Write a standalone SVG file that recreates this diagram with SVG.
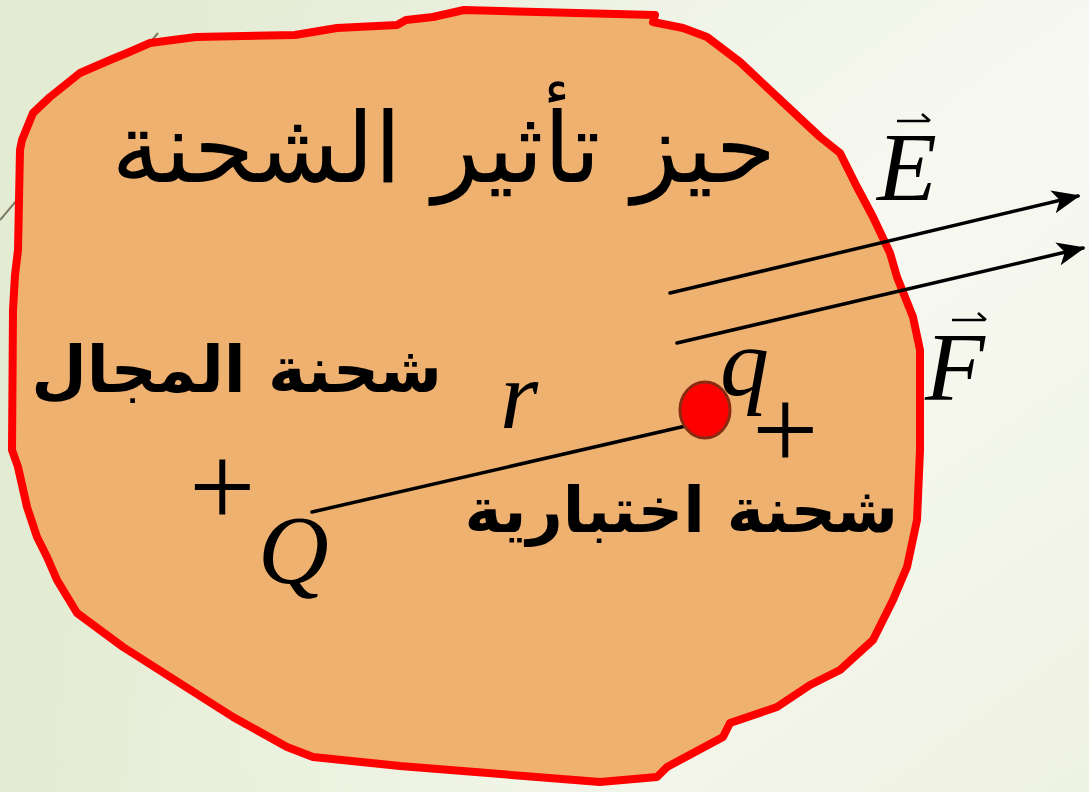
<svg xmlns="http://www.w3.org/2000/svg" width="1089" height="792" viewBox="0 0 1089 792">
  <defs>
    <linearGradient id="bg" x1="0" y1="0" x2="1" y2="1">
      <stop offset="0" stop-color="#e6ecd8"/>
      <stop offset="0.55" stop-color="#f7f9f1"/>
      <stop offset="1" stop-color="#eef2e2"/>
    </linearGradient>
    <linearGradient id="bg2" x1="0" y1="0" x2="1" y2="0">
      <stop offset="0" stop-color="#e3ebd2" stop-opacity="1"/>
      <stop offset="0.6" stop-color="#e3ebd2" stop-opacity="0"/>
    </linearGradient>
    <marker id="arrow" viewBox="0 0 12 10" refX="11" refY="5" markerWidth="8" markerHeight="7" markerUnits="strokeWidth" orient="auto">
      <path d="M0,0 L12,5 L0,10 L3,5 z" fill="#000"/>
    </marker>
    <style>
      .ar { font-family: "DejaVu Sans", "Noto Sans", sans-serif; fill: #000; direction: rtl; unicode-bidi: embed; }
      .math { font-family: "Liberation Serif", "DejaVu Serif", serif; font-style: italic; fill: #000; font-size: 98px; }
      .plus { font-family: "Liberation Serif", "DejaVu Serif", serif; fill: #000; font-size: 118px; }
      .line { stroke: #000; stroke-width: 3.5; fill: none; stroke-linecap: round; }
      .acc { stroke: #000; stroke-width: 2.5; fill: none; }
    </style>
  </defs>

  <rect width="1089" height="792" fill="url(#bg)"/>
  <rect width="1089" height="792" fill="url(#bg2)"/>
  <line x1="0" y1="220" x2="158" y2="33" stroke="#7d7a62" stroke-width="2"/>

  <g id="region">
    <path d="M22,140 L33,113 L50,97 L80,73 L110,60 L127,53 L150,43 L196,37 L295,35 L337,28 L397,25 L406,20 L433,17 L464,10 L655,15 L653,22 L683,28 L707,37 L740,62 L773,93 L820,137 L840,153 L857,187 L873,217 L890,253 L897,277 L913,317 L920,350 L920,450 L917,520 L907,567 L893,600 L873,640 L840,670 L810,685 L777,707 L730,723 L723,737 L667,767 L657,777 L600,782 L400,766 L313,757 L287,747 L233,717 L123,647 L77,613 L57,580 L47,557 L37,537 L27,507 L18,467 L12,450 L13,310 L15,275 L18,250 L20,150 Z" fill="#efb170" stroke="#ff0000" stroke-width="8" stroke-linejoin="round"/>
  </g>

  <g id="title">
    <text class="ar" x="776" y="182" font-size="98">حيز تأثير الشحنة</text>
  </g>

  <g id="field-charge-label">
    <text class="ar" x="442" y="392" font-size="64" font-weight="bold">شحنة المجال</text>
  </g>

  <g id="test-charge-label">
    <text class="ar" x="898" y="532" font-size="63" font-weight="bold">شحنة اختبارية</text>
  </g>

  <g id="connectors">
    <line class="line" x1="312" y1="512" x2="690" y2="425"/>
    <line class="line" x1="670" y1="293" x2="1078" y2="196" marker-end="url(#arrow)"/>
    <line class="line" x1="677" y1="343" x2="1083" y2="248" marker-end="url(#arrow)"/>
  </g>

  <g id="Q">
    <text class="plus" x="189" y="527">+</text>
    <text class="math" x="258" y="583">Q</text>
  </g>

  <g id="r">
    <text class="math" x="500" y="428">r</text>
  </g>

  <g id="q">
    <ellipse cx="705" cy="410" rx="25" ry="28" fill="#ff0000" stroke="#8b2a12" stroke-width="3"/>
    <text class="math" x="720" y="395">q</text>
    <text class="plus" x="752" y="470">+</text>
  </g>

  <g id="E">
    <text class="math" x="877" y="200">E</text>
    <path class="acc" d="M897,121 L929,121 M922,114 L930,121"/>
  </g>

  <g id="F">
    <text class="math" x="925" y="400">F</text>
    <path class="acc" d="M952,320 L985,320 M978,313 L986,320"/>
  </g>
</svg>
